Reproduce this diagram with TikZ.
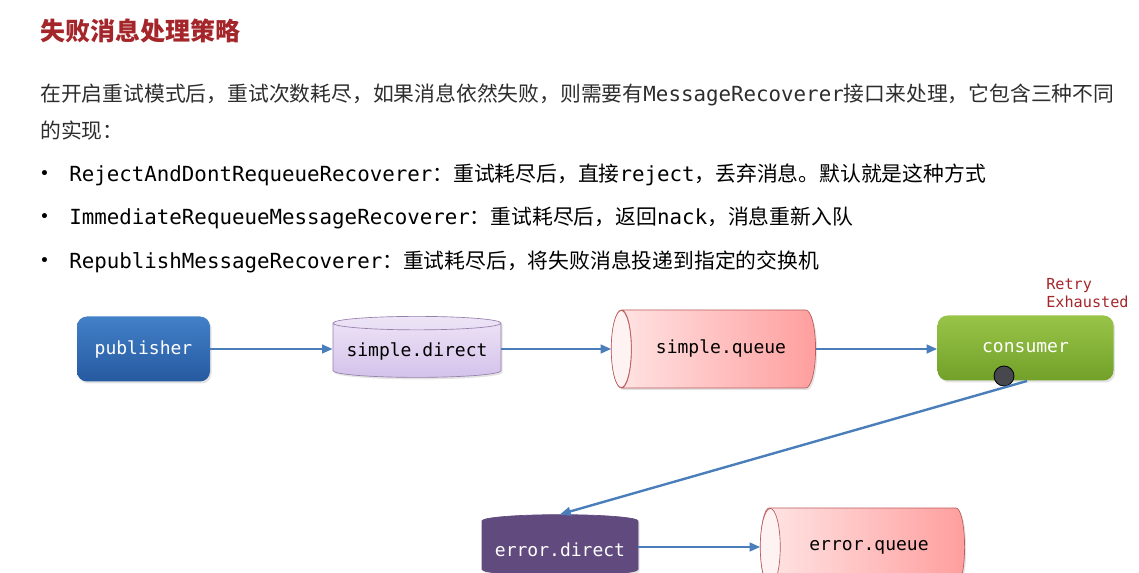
\documentclass[tikz,border=0pt]{standalone}
\usepackage{fontspec}
\setmainfont{Noto Sans CJK SC}
\newfontfamily\monofont{DejaVu Sans Mono}
\usetikzlibrary{arrows.meta,shapes.geometric,shadows}

\definecolor{titlered}{RGB}{165,38,42}
\definecolor{bodygray}{RGB}{45,45,45}
\definecolor{flowblue}{RGB}{74,126,187}
\definecolor{pubtop}{RGB}{66,128,200}
\definecolor{pubbot}{RGB}{38,90,160}
\definecolor{contop}{RGB}{152,196,72}
\definecolor{conbot}{RGB}{114,160,40}
\definecolor{exlight}{RGB}{238,229,247}
\definecolor{exdark}{RGB}{212,194,234}
\definecolor{exborder}{RGB}{150,128,172}
\definecolor{errpurple}{RGB}{96,74,126}
\definecolor{qlight}{RGB}{255,230,230}
\definecolor{qdark}{RGB}{255,158,158}
\definecolor{qface}{RGB}{255,242,242}
\definecolor{qborder}{RGB}{186,92,92}
\definecolor{dotgray}{RGB}{70,72,78}

\newcommand{\mn}[1]{{\monofont #1}}

\begin{document}
\begin{tikzpicture}[x=0.75pt,y=-0.75pt,
    bodytext/.style={anchor=west, inner sep=0pt, text=bodygray,
      font=\fontsize{15.6}{18}\selectfont},
    flow/.style={-{Triangle[length=8pt,width=6.5pt]}, line width=1.8pt, draw=flowblue},
    softshadow/.style={drop shadow={shadow xshift=1.2pt, shadow yshift=-1.5pt, opacity=0.22}},
    clientbox/.style={rectangle, rounded corners=7.5pt, minimum width=99.75pt,
      minimum height=48.75pt, text=white, softshadow,
      font=\monofont\fontsize{13.5}{15}\selectfont},
    exchange/.style={cylinder, shape border rotate=90, aspect=0.09, draw=exborder,
      line width=0.5pt, softshadow, font=\monofont\fontsize{13.5}{15}\selectfont},
    queuecyl/.style={cylinder, shape border rotate=180, aspect=0.75, draw=qborder,
      line width=0.5pt, left color=qlight, right color=qdark, softshadow,
      minimum width=58.5pt, minimum height=153pt,
      font=\monofont\fontsize{13.5}{15}\selectfont},
    queueface/.style={fill=qface, draw=qborder, line width=0.5pt}]
  \useasboundingbox (0,0) rectangle (1139,573);
  \clip (0,0) rectangle (1139,573);

  % heading and explanation
  \node[anchor=west, inner sep=0pt, text=titlered,
    font=\bfseries\fontsize{18.75}{22}\selectfont] (title) at (40,31) {失败消息处理策略};
  \node[bodytext] (intro) at (40,95)
    {在开启重试模式后，重试次数耗尽，如果消息依然失败，则需要有\mn{MessageRecoverer}接口来处理，它包含三种不同};
  \node[bodytext] (introb) at (40,131) {的实现：};
  \foreach \y/\txt in {175/{\mn{RejectAndDontRequeueRecoverer}：重试耗尽后，直接\mn{reject}，丢弃消息。默认就是这种方式},
      218/{\mn{ImmediateRequeueMessageRecoverer}：重试耗尽后，返回\mn{nack}，消息重新入队},
      262/{\mn{RepublishMessageRecoverer}：重试耗尽后，将失败消息投递到指定的交换机}} {
    \node[bodytext, text=black, font=\monofont\fontsize{13}{15}\selectfont] at (39,\y) {•};
    \node[bodytext, text=black] at (69,\y) {\txt};
  }

  % main flow
  \node[clientbox, top color=pubtop, bottom color=pubbot] (publisher) at (143.5,349) {publisher};
  \node[exchange, top color=exlight, bottom color=exdark, minimum width=126pt,
    minimum height=45.75pt] (simpleDirect) at (417,351.5) {simple.direct};
  \node[queuecyl] (simpleQueue) at (721,349) {simple.queue};
  \filldraw[queueface] (simpleQueue.west) ++(10,0) ellipse [x radius=10, y radius=38.5];
  \node[clientbox, top color=contop, bottom color=conbot, minimum width=132pt]
    (consumer) at (1025.5,348) {consumer};
  \node[anchor=north west, inner sep=0pt, align=left, text=titlered,
    font=\monofont\fontsize{11.4}{13.5}\selectfont] (retry) at (1046,278) {Retry\\Exhausted};
  \node[circle, draw=black, line width=0.6pt, fill=dotgray, minimum size=15pt,
    inner sep=0pt] (ackDot) at (1004,376) {};

  % error flow
  \node[exchange, fill=errpurple, draw=errpurple, text=white, minimum width=117pt,
    minimum height=45.75pt] (errorDirect) at (560,549.5) {error.direct};
  \node[queuecyl] (errorQueue) at (869,547) {error.queue};
  \filldraw[queueface] (errorQueue.west) ++(10,0) ellipse [x radius=10, y radius=38.5];

  \draw[flow] (publisher.east) -- (publisher.east -| simpleDirect.west);
  \draw[flow] (simpleDirect.east |- simpleQueue.west) -- (simpleQueue.west);
  \draw[flow] (simpleQueue.east) -- (simpleQueue.east -| consumer.west);
  \coordinate (exhausted) at (1027,381);
  \draw[flow] (exhausted) -- (errorDirect.north);
  \draw[flow] (errorDirect.east |- errorQueue.west) -- (errorQueue.west);
\end{tikzpicture}
\end{document}
